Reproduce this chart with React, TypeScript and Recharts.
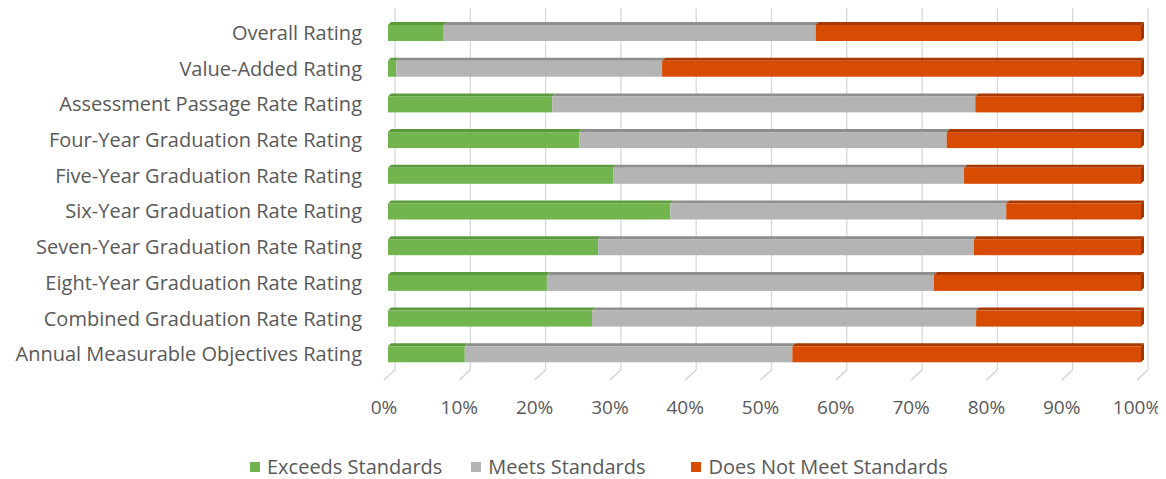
import React from 'react';
import { BarChart, Bar, XAxis, YAxis, CartesianGrid } from 'recharts';

const categories = [
  'Overall Rating',
  'Value-Added Rating',
  'Assessment Passage Rate Rating',
  'Four-Year Graduation Rate Rating',
  'Five-Year Graduation Rate Rating',
  'Six-Year Graduation Rate Rating',
  'Seven-Year Graduation Rate Rating',
  'Eight-Year Graduation Rate Rating',
  'Combined Graduation Rate Rating',
  'Annual Measurable Objectives Rating',
];
const exceeds = [7.4, 1.1, 21.8, 25.4, 29.9, 37.5, 27.9, 21.1, 27.1, 10.2];
const meets = [49.4, 35.3, 56.2, 48.8, 46.6, 44.6, 49.9, 51.4, 51.0, 43.5];
const notMeet = [43.2, 63.6, 22.0, 25.8, 23.5, 17.9, 22.2, 27.5, 21.9, 46.3];
const ticks = [0, 10, 20, 30, 40, 50, 60, 70, 80, 90, 100];

const series = [
  { key: 'exceeds', name: 'Exceeds Standards', color: '#72b54f', top: '#5a9a3c', side: '#4f8a33' },
  { key: 'meets', name: 'Meets Standards', color: '#b4b4b4', top: '#8e8e8e', side: '#8a8a8a' },
  { key: 'notMeet', name: 'Does Not Meet Standards', color: '#d84b02', top: '#a83800', side: '#a33600' },
];

const data = categories.map((name, i) => ({
  name,
  exceeds: exceeds[i],
  meets: meets[i],
  notMeet: notMeet[i],
}));

const D = 3;
const FONT = '"Open Sans", sans-serif';
const TEXT = '#595959';

function make3D(color: string, top: string, side: string, last: boolean) {
  return (props: any) => {
    const { x, y, width, height } = props;
    if (!width || width <= 0) return <g />;
    return (
      <g>
        <polygon
          points={`${x},${y} ${x + D},${y - D} ${x + width + D},${y - D} ${x + width},${y}`}
          fill={top}
        />
        {last && (
          <polygon
            points={`${x + width},${y} ${x + width + D},${y - D} ${x + width + D},${y + height - D} ${x + width},${y + height}`}
            fill={side}
          />
        )}
        <rect x={x} y={y} width={width} height={height} fill={color} />
      </g>
    );
  };
}

const GridLine = (props: any) => {
  const { x1, y1, y2 } = props;
  return (
    <g>
      <line x1={x1 + 7} y1={y1 - 8} x2={x1 + 7} y2={y2 - 2} stroke="#d9d9d9" strokeWidth={1.3} />
      <line x1={x1 + 7} y1={y2 - 2} x2={x1 - 4} y2={y2 + 8} stroke="#d0d0d0" strokeWidth={1.3} />
    </g>
  );
};

const legendGaps = [29, 46, 0];

export default function App() {
  return (
    <div style={{ position: 'relative', width: 1158, height: 471, fontFamily: FONT }}>
      <BarChart
        width={1158}
        height={471}
        data={data}
        layout="vertical"
        barCategoryGap={0}
        margin={{ top: 7, right: 25, left: 0, bottom: 57 }}
      >
        <CartesianGrid horizontal={false} vertical={GridLine as any} />
        <XAxis
          type="number"
          domain={[0, 100]}
          ticks={ticks}
          tickFormatter={(v) => `${v}%`}
          axisLine={false}
          tickLine={false}
          tickSize={0}
          tickMargin={29}
          height={50}
          interval={0}
          tick={{ fill: TEXT, fontSize: 19, fontFamily: FONT, dx: -4 }}
        />
        <YAxis
          type="category"
          dataKey="name"
          width={380}
          axisLine={false}
          tickLine={false}
          tickSize={0}
          tickMargin={26}
          interval={0}
          tick={{ fill: TEXT, fontSize: 20, fontFamily: FONT }}
        />
        {series.map((s, i) => (
          <Bar
            key={s.key}
            dataKey={s.key}
            name={s.name}
            stackId="a"
            barSize={16}
            fill={s.color}
            isAnimationActive={false}
            shape={make3D(s.color, s.top, s.side, i === series.length - 1)}
          />
        ))}
      </BarChart>
      <div
        style={{
          position: 'absolute',
          top: 445,
          left: 242,
          display: 'flex',
          alignItems: 'center',
          fontSize: 20,
          color: TEXT,
          whiteSpace: 'nowrap',
        }}
      >
        {series.map((s, i) => (
          <div key={s.key} style={{ display: 'flex', alignItems: 'center', marginRight: legendGaps[i] }}>
            <span style={{ display: 'inline-block', width: 10, height: 10, background: s.color, marginRight: 7 }} />
            <span>{s.name}</span>
          </div>
        ))}
      </div>
    </div>
  );
}
